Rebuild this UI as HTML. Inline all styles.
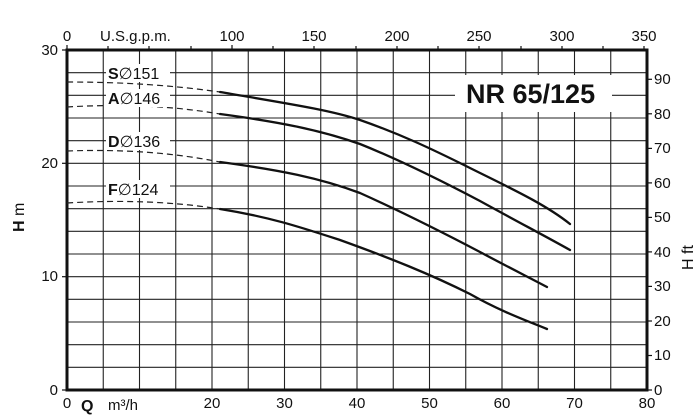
<!DOCTYPE html>
<html><head><meta charset="utf-8"><style>
body{margin:0;background:#fff;}
svg{display:block;font-family:"Liberation Sans",sans-serif;}
</style></head><body>
<svg width="700" height="419" viewBox="0 0 700 419" xmlns="http://www.w3.org/2000/svg">
<rect width="700" height="419" fill="#fff"/>
<g stroke="#222" stroke-width="1.1">
<line x1="103.25" y1="50" x2="103.25" y2="390"/><line x1="139.5" y1="50" x2="139.5" y2="390"/><line x1="175.75" y1="50" x2="175.75" y2="390"/><line x1="212" y1="50" x2="212" y2="390"/><line x1="248.25" y1="50" x2="248.25" y2="390"/><line x1="284.5" y1="50" x2="284.5" y2="390"/><line x1="320.75" y1="50" x2="320.75" y2="390"/><line x1="357" y1="50" x2="357" y2="390"/><line x1="393.25" y1="50" x2="393.25" y2="390"/><line x1="429.5" y1="50" x2="429.5" y2="390"/><line x1="465.75" y1="50" x2="465.75" y2="390"/><line x1="502" y1="50" x2="502" y2="390"/><line x1="538.25" y1="50" x2="538.25" y2="390"/><line x1="574.5" y1="50" x2="574.5" y2="390"/><line x1="610.75" y1="50" x2="610.75" y2="390"/>
<line x1="67" y1="72.7" x2="647" y2="72.7"/><line x1="67" y1="95.3" x2="647" y2="95.3"/><line x1="67" y1="118" x2="647" y2="118"/><line x1="67" y1="140.7" x2="647" y2="140.7"/><line x1="67" y1="163.3" x2="647" y2="163.3"/><line x1="67" y1="186" x2="647" y2="186"/><line x1="67" y1="208.7" x2="647" y2="208.7"/><line x1="67" y1="231.3" x2="647" y2="231.3"/><line x1="67" y1="254" x2="647" y2="254"/><line x1="67" y1="276.7" x2="647" y2="276.7"/><line x1="67" y1="299.3" x2="647" y2="299.3"/><line x1="67" y1="322" x2="647" y2="322"/><line x1="67" y1="344.7" x2="647" y2="344.7"/><line x1="67" y1="367.3" x2="647" y2="367.3"/>
</g>
<rect x="67" y="50" width="580" height="340" fill="none" stroke="#111" stroke-width="3"/>
<g stroke="#111" stroke-width="1.2">
<line x1="62" y1="50" x2="67" y2="50"/><line x1="62" y1="163.3" x2="67" y2="163.3"/><line x1="62" y1="276.7" x2="67" y2="276.7"/><line x1="62" y1="390" x2="67" y2="390"/>
<line x1="647" y1="390" x2="652" y2="390"/><line x1="647" y1="355.5" x2="652" y2="355.5"/><line x1="647" y1="321" x2="652" y2="321"/><line x1="647" y1="286.4" x2="652" y2="286.4"/><line x1="647" y1="251.9" x2="652" y2="251.9"/><line x1="647" y1="217.4" x2="652" y2="217.4"/><line x1="647" y1="182.9" x2="652" y2="182.9"/><line x1="647" y1="148.4" x2="652" y2="148.4"/><line x1="647" y1="113.8" x2="652" y2="113.8"/><line x1="647" y1="79.3" x2="652" y2="79.3"/>
<line x1="67" y1="45" x2="67" y2="50"/><line x1="108" y1="46" x2="108" y2="50"/><line x1="149" y1="46" x2="149" y2="50"/><line x1="191" y1="46" x2="191" y2="50"/><line x1="232" y1="45" x2="232" y2="50"/><line x1="273" y1="46" x2="273" y2="50"/><line x1="314" y1="46" x2="314" y2="50"/><line x1="356" y1="46" x2="356" y2="50"/><line x1="397" y1="46" x2="397" y2="50"/><line x1="438" y1="46" x2="438" y2="50"/><line x1="479" y1="46" x2="479" y2="50"/><line x1="521" y1="46" x2="521" y2="50"/><line x1="562" y1="46" x2="562" y2="50"/><line x1="603" y1="46" x2="603" y2="50"/><line x1="644" y1="46" x2="644" y2="50"/>
</g>
<g fill="none" stroke="#111" stroke-width="2.3" stroke-linejoin="round" stroke-linecap="round">
<path d="M220,92 C290,104 330,110 360,120 C400,134 430,148 470,168 C510,188 545,204 570,224"/>
<path d="M220,114 C280,122 320,130 360,144 C400,160 440,180 480,201 C520,223 545,236 570,250"/>
<path d="M220,162 C280,170 320,178 360,193 C400,211 440,231 480,252 C510,268 530,278 547,287"/>
<path d="M220,209 C270,217 300,227 340,240 C390,258 430,274 470,294 C500,311 525,320 547,329"/>
</g>
<g fill="none" stroke="#222" stroke-width="1.2" stroke-dasharray="6,4">
<path d="M67,82 Q150,82 220,92"/>
<path d="M67,107 Q150,102 220,114"/>
<path d="M67,151 Q150,148 220,162"/>
<path d="M67,203 Q150,198 220,209"/>
</g>
<g font-size="16" fill="#111">
<rect x="106" y="64" width="64" height="18" fill="#fff"/>
<text x="108" y="79"><tspan font-weight="bold">S</tspan>∅151</text>
<rect x="106" y="89" width="64" height="18" fill="#fff"/>
<text x="108" y="104"><tspan font-weight="bold">A</tspan>∅146</text>
<rect x="106" y="132" width="64" height="18" fill="#fff"/>
<text x="108" y="147"><tspan font-weight="bold">D</tspan>∅136</text>
<rect x="106" y="180" width="64" height="18" fill="#fff"/>
<text x="108" y="195"><tspan font-weight="bold">F</tspan>∅124</text>
</g>
<rect x="455" y="75" width="157" height="37" fill="#fff"/>
<text x="466" y="103" font-size="27" font-weight="bold" fill="#111">NR 65/125</text>
<g font-size="15" fill="#111">
<text x="58" y="55" text-anchor="end">30</text>
<text x="58" y="168" text-anchor="end">20</text>
<text x="58" y="281" text-anchor="end">10</text>
<text x="58" y="395" text-anchor="end">0</text>
<g text-anchor="middle">
<text x="67" y="408">0</text><text x="212" y="408">20</text><text x="284.5" y="408">30</text><text x="357" y="408">40</text><text x="429.5" y="408">50</text><text x="502" y="408">60</text><text x="574.5" y="408">70</text><text x="647" y="408">80</text>
<text x="67" y="41">0</text><text x="232" y="41">100</text><text x="314" y="41">150</text><text x="397" y="41">200</text><text x="479" y="41">250</text><text x="562" y="41">300</text><text x="644" y="41">350</text>
</g>
<text x="100" y="41">U.S.g.p.m.</text>
<g text-anchor="start">
<text x="654" y="395">0</text><text x="654" y="360">10</text><text x="654" y="326">20</text><text x="654" y="291">30</text><text x="654" y="257">40</text><text x="654" y="222">50</text><text x="654" y="188">60</text><text x="654" y="153">70</text><text x="654" y="119">80</text><text x="654" y="84">90</text>
</g>
<text x="81" y="411" font-weight="bold" font-size="16">Q</text>
<text x="108" y="410">m³/h</text>
<text transform="translate(24,232) rotate(-90)" font-size="16"><tspan font-weight="bold">H</tspan> m</text>
<text transform="translate(693,270) rotate(-90)" font-size="16">H ft</text>
</g>
</svg>
</body></html>
